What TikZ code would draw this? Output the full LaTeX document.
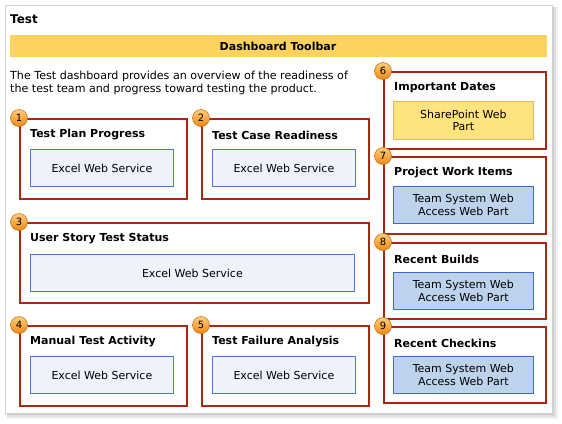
\documentclass[tikz,border=0pt]{standalone}
\usepackage{fontspec}
\setmainfont{DejaVu Sans}
\usetikzlibrary{positioning}
\definecolor{partred}{RGB}{165,40,18}
\definecolor{toolbar}{RGB}{253,211,96}
\definecolor{excelfill}{RGB}{238,242,250}
\definecolor{excelline}{RGB}{80,122,200}
\definecolor{spfill}{RGB}{255,227,126}
\definecolor{spline}{RGB}{245,178,90}
\definecolor{tsfill}{RGB}{189,211,236}
\definecolor{tsline}{RGB}{62,107,191}
\definecolor{badgetop}{RGB}{255,205,120}
\definecolor{badgebot}{RGB}{240,135,20}
\tikzset{
  partbox/.style={draw=partred, line width=1.8pt, fill=white, anchor=north west, inner sep=0pt},
  parttitle/.style={font=\fontsize{11}{13}\selectfont\bfseries, anchor=west, inner sep=0pt},
  badge/.style={circle, draw=badgebot!80!black, line width=0.5pt, top color=badgetop, bottom color=badgebot,
    minimum size=17pt, inner sep=0pt, font=\fontsize{10}{10}\selectfont},
  excel/.style={draw=excelline, fill=excelfill, line width=0.8pt},
  sharepoint/.style={draw=spline, fill=spfill, line width=0.8pt},
  teamsys/.style={draw=tsline, fill=tsfill, line width=0.8pt},
  inner/.style={anchor=north west, inner sep=0pt, align=center, font=\fontsize{11}{12.5}\selectfont}
}
% frame of one web part: name, number, x, y, width, height, title
\newcommand{\partframe}[7]{\node[partbox, minimum width=#5pt, minimum height=#6pt] (#1) at (#3,#4) {};
  \node[parttitle] (#1t) at ([xshift=11pt,yshift=-17pt]#1.north west) {#7};
  \node[badge] (#1n) at (#1.north west) {#2};}
% content box: style, name, x, y, width, height, text
\newcommand{\partbody}[7]{\node[inner, #1, minimum width=#5pt, minimum height=#6pt] (#2) at (#3,#4) {#7};}

\begin{document}
\begin{tikzpicture}[x=1pt, y=-1pt]
        \useasboundingbox (0,0) rectangle (562,423);
        % page and shadow
        \fill[gray!12] (7,7) rectangle (558,419);
        \fill[gray!25] (7,7) rectangle (556,417);
        \fill[gray!40] (7,7) rectangle (554,415);
        \filldraw[fill=white, draw=gray!35] (5,5) rectangle (552,413);
        \node[anchor=west, inner sep=0pt, font=\fontsize{12}{13}\selectfont\bfseries] (title) at (10,19) {Test};
        \fill[toolbar] (10,35) rectangle (547,57);
        \node[inner sep=0pt, font=\fontsize{11}{12}\selectfont\bfseries] (toolbar) at (278,46.5) {Dashboard Toolbar};
        \node[anchor=north west, inner sep=0pt, align=left, font=\fontsize{11.1}{13}\selectfont] (intro) at (10,70.5)
          {The Test dashboard provides an overview of the readiness of\\the test team and progress toward testing the product.};
        % left web parts
        \partframe{p1}{1}{19}{118}{167}{80}{Test Plan Progress};
        \partbody{excel}{b1}{30}{149}{143}{37}{Excel Web Service};
        \partframe{p2}{2}{201}{118}{167}{80}{Test Case Readiness};
        \partbody{excel}{b2}{212}{149}{143}{37}{Excel Web Service};
        \partframe{p3}{3}{19}{222}{349}{80}{User Story Test Status};
        \partbody{excel}{b3}{30}{254}{324}{37}{Excel Web Service};
        \partframe{p4}{4}{19}{325}{167}{80}{Manual Test Activity};
        \partbody{excel}{b4}{30}{356}{143}{37}{Excel Web Service};
        \partframe{p5}{5}{201}{325}{167}{80}{Test Failure Analysis};
        \partbody{excel}{b5}{212}{356}{143}{37}{Excel Web Service};
        % right web parts
        \partframe{p6}{6}{383}{71}{162}{77}{Important Dates};
        \partbody{sharepoint}{b6}{393}{101}{140}{38}{SharePoint Web\\Part};
        \partframe{p7}{7}{383}{156}{162}{77}{Project Work Items};
        \partbody{teamsys}{b7}{393}{186}{140}{37}{Team System Web\\Access Web Part};
        \partframe{p8}{8}{383}{242}{162}{76}{Recent Builds};
        \partbody{teamsys}{b8}{393}{272}{140}{37}{Team System Web\\Access Web Part};
        \partframe{p9}{9}{383}{326}{162}{76}{Recent Checkins};
        \partbody{teamsys}{b9}{393}{356}{140}{37}{Team System Web\\Access Web Part};
    \end{tikzpicture}
\end{document}
